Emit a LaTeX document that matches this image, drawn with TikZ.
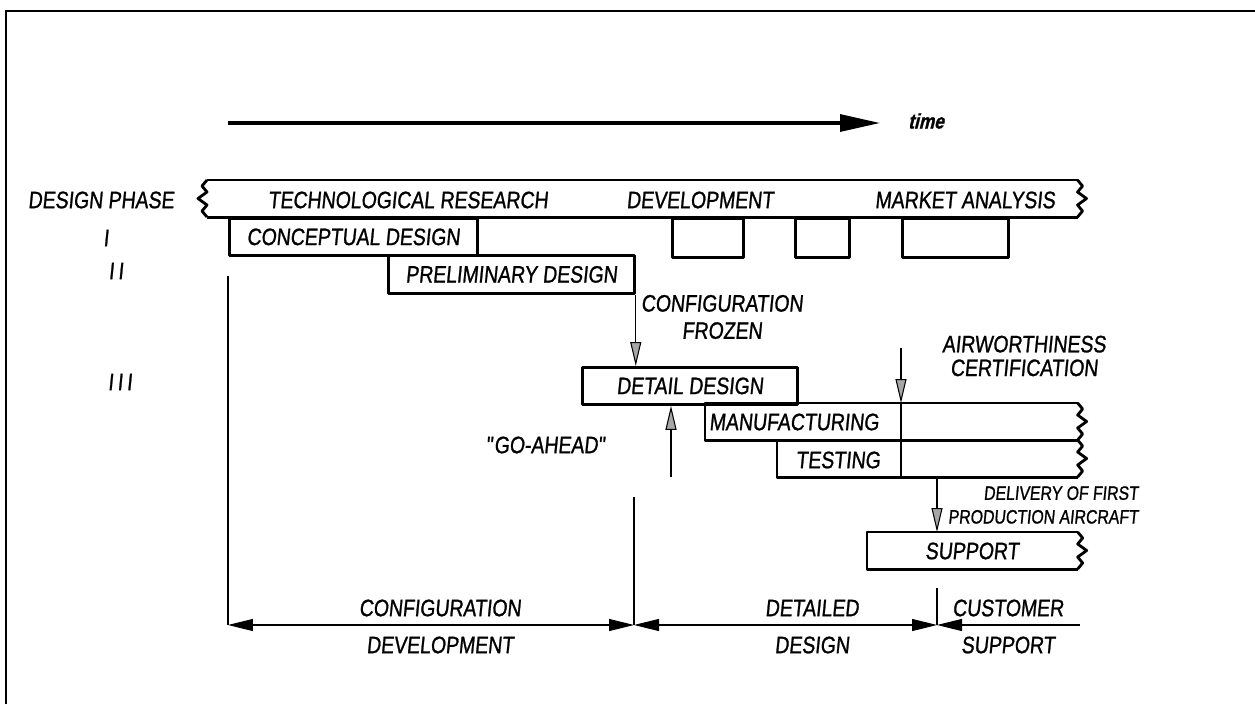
\documentclass[tikz,border=0pt]{standalone}
\usepackage{fontspec}
\setmainfont{Liberation Sans}[FakeSlant=0.1,FakeStretch=0.82,FakeBold=1]
\usepackage{tikz}
\usetikzlibrary{arrows.meta,positioning}
\newcommand{\phasefont}{\fontsize{13.5}{13.5}\selectfont}
\tikzset{
    boxline/.style={line width=1.6pt,line join=round},
    thinline/.style={line width=0.6pt},
    phasebox/.style={draw,boxline,anchor=north west,inner sep=0pt,minimum height=0.74cm,font=\phasefont},
    wavybox/.style={anchor=north west,inner sep=0pt,minimum height=0.74cm},
    lbl/.style={font=\phasefont,inner sep=1pt,align=center},
    vtip/.style={-{Triangle[length=0.48cm,width=0.22cm,fill=gray!70]}},
    dimtip/.tip={Triangle[length=0.5cm,width=0.24cm]},
    wavyend/.pic={
        \draw[boxline] (0,0) -- (5,6) -- (0,12) -- (9,18.5) -- (0,25) -- (5,31) -- (0,37);
    }
}

\begin{document}
\begin{tikzpicture}[x=0.02cm,y=-0.02cm]
    \useasboundingbox (0,0) rectangle (1255,704);
    \draw[line width=1.7pt] (6,704) -- (6,11) -- (1255,11);

    % time axis
    \coordinate (tstart) at (228,123);
    \coordinate (tend) at (880,123);
    \node[font=\fontsize{12}{12}\selectfont\bfseries,anchor=west,xslant=0.15] (timelbl) at (903,121) {time};
    \draw[line width=1.8pt,-{Triangle[length=0.8cm,width=0.34cm]}] (tstart) -- (tend);

    % phase labels
    \node[lbl] (designphase) at (101,200) {DESIGN PHASE};
    \node[lbl] (numI) at (106,238) {I};
    \node[lbl] (numII) at (116,271) {I\,I};
    \node[lbl] (numIII) at (120,382) {I\,I\,I};

    % design phase bar
    \node[wavybox,minimum width=17.4cm] (bar) at (207,180) {};
    \draw[boxline] (bar.north west) -- (bar.north east);
    \draw[boxline] (bar.south west) -- (bar.south east);
    \pic at (bar.north east) {wavyend};
    \pic[xscale=-1] at (bar.north west) {wavyend};
    \node[lbl] (techres) at (408,200) {TECHNOLOGICAL RESEARCH};
    \node[lbl] (develop) at (700,200) {DEVELOPMENT};
    \node[lbl] (market) at (965,200) {MARKET ANALYSIS};

    \node[phasebox,minimum width=4.96cm] (concept) at (228,217) {CONCEPTUAL DESIGN};
    \node[phasebox,minimum width=4.92cm,minimum height=0.76cm] (prelim) at (387,254) {PRELIMINARY DESIGN};
    \node[phasebox,minimum width=1.42cm,minimum height=0.78cm] (dev1) at (671,217) {};
    \node[phasebox,minimum width=1.08cm,minimum height=0.78cm] (dev2) at (794,217) {};
    \node[phasebox,minimum width=2.12cm,minimum height=0.78cm] (mkt1) at (901,217) {};

    \node[phasebox,minimum width=4.3cm] (detail) at (581,366) {DETAIL DESIGN};

    % open ended bars
    \node[wavybox,minimum width=7.44cm] (manuf) at (705,403) {};
    \draw[boxline] (manuf.north east) -- (manuf.north west) -- (manuf.south west) -- (manuf.south east);
    \pic at (manuf.north east) {wavyend};
    \node[lbl] (manuftxt) at (794,422) {MANUFACTURING};

    \node[wavybox,minimum width=6cm] (testing) at (777,440) {};
    \draw[boxline] (testing.north east) -- (testing.north west) -- (testing.south west) -- (testing.south east);
    \pic at (testing.north east) {wavyend};
    \node[lbl] (testtxt) at (838,460) {TESTING};

    \node[wavybox,minimum width=4.2cm] (support) at (867,532) {};
    \draw[boxline] (support.north east) -- (support.north west) -- (support.south west) -- (support.south east);
    \pic at (support.north east) {wavyend};
    \node[lbl] (supptxt) at (972,551) {SUPPORT};

    % milestones
    \node[lbl] (frozen) at (722,317) {CONFIGURATION\\[2pt]FROZEN};
    \draw[thinline,vtip] (prelim.south east) -- (prelim.south east |- detail.north);

    \node[lbl] (goahead) at (546,445) {\textquotedbl GO-AHEAD\textquotedbl};
    \coordinate (gofoot) at (671,477);
    \draw[thinline,vtip] (gofoot) -- (gofoot |- detail.south);

    \node[lbl] (airworth) at (1024,356) {AIRWORTHINESS\\CERTIFICATION};
    \coordinate (airtop) at (901,348);
    \draw[thinline,vtip] (airtop) -- (airtop |- manuf.north);
    \draw[thinline] (airtop |- manuf.north) -- (airtop |- testing.south);

    \node[inner sep=1pt,font=\fontsize{11}{13.5}\selectfont,align=right,anchor=west] (delivery) at (946,505) {DELIVERY OF FIRST\\PRODUCTION AIRCRAFT};
    \coordinate (delfoot) at (937,478);
    \draw[thinline,vtip] (delfoot) -- (delfoot |- support.north);

    % project stages
    \coordinate (dimA) at (228,625);
    \coordinate (dimB) at (634,625);
    \coordinate (dimC) at (937,625);
    \coordinate (dimD) at (1080,625);
    \draw[thinline] (228,276) -- (dimA);
    \draw[thinline] (634,497) -- (dimB);
    \draw[thinline] (937,588) -- (dimC);
    \draw[thinline,{dimtip}-{dimtip}] (dimA) -- (dimB);
    \draw[thinline,{dimtip}-{dimtip}] (dimB) -- (dimC);
    \draw[thinline,{dimtip}-] (dimC) -- (dimD);

    \node[lbl] (stage1a) at (440,608) {CONFIGURATION};
    \node[lbl] (stage1b) at (440,645) {DEVELOPMENT};
    \node[lbl] (stage2a) at (812,608) {DETAILED};
    \node[lbl] (stage2b) at (812,645) {DESIGN};
    \node[lbl] (stage3a) at (1008,608) {CUSTOMER};
    \node[lbl] (stage3b) at (1008,645) {SUPPORT};
\end{tikzpicture}
\end{document}
